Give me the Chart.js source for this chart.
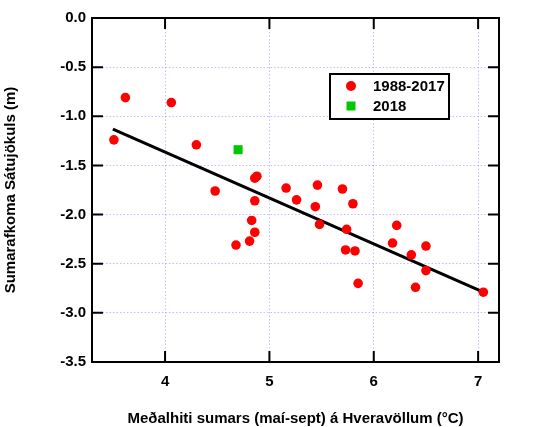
<!DOCTYPE html>
<html>
<head>
<meta charset="utf-8">
<script src="https://cdn.jsdelivr.net/npm/chart.js@4.4.0/dist/chart.umd.min.js"></script>
<style>
  body { margin: 0; background: #fff; }
</style>
</head>
<body>
<canvas id="graf" width="540" height="427"></canvas>
<script>
// Gögn 1988-2017: meðalhiti sumars (x) og sumarafkoma (y)
const hiti = [3.51, 3.62, 4.06, 4.30, 4.48, 4.68, 4.81, 4.83, 4.86, 4.86, 4.86, 4.88,
  5.16, 5.26, 5.44, 5.46, 5.48, 5.70, 5.74, 5.73, 5.80, 5.82, 5.85,
  6.18, 6.22, 6.36, 6.40, 6.50, 6.50, 7.05];
const afkoma = [-1.24, -0.81, -0.86, -1.29, -1.76, -2.31, -2.27, -2.06, -2.18, -1.86, -1.63, -1.61,
  -1.73, -1.85, -1.92, -1.70, -2.10, -1.74, -2.15, -2.36, -1.89, -2.37, -2.70,
  -2.29, -2.11, -2.41, -2.74, -2.32, -2.57, -2.79];
// 2018
const hiti2018 = [4.70];
const afkoma2018 = [-1.34];
// Aðfallslína
const linaX = [3.5, 7.05];
const linaY = [-1.13, -2.79];
// Kvarðar
const xTicks = [4, 5, 6, 7];
const yTicks = [0, -0.5, -1.0, -1.5, -2.0, -2.5, -3.0, -3.5];
const legendTexti = ["1988-2017", "2018"];

const pör = (xs, ys) => xs.map((v, i) => ({ x: v, y: ys[i] }));

const rammi = {
  id: "rammi",
  afterDatasetsDraw(chart) {
    const { ctx, chartArea: a, scales: { x, y } } = chart;
    ctx.save();
    ctx.strokeStyle = "#000";
    ctx.lineWidth = 2;
    ctx.strokeRect(a.left, a.top, a.right - a.left, a.bottom - a.top);
    ctx.beginPath();
    xTicks.forEach(v => {
      const px = x.getPixelForValue(v);
      ctx.moveTo(px, a.bottom); ctx.lineTo(px, a.bottom - 11);
      ctx.moveTo(px, a.top); ctx.lineTo(px, a.top + 11);
    });
    yTicks.forEach(v => {
      const py = y.getPixelForValue(v);
      ctx.moveTo(a.left, py); ctx.lineTo(a.left + 11, py);
      ctx.moveTo(a.right, py); ctx.lineTo(a.right - 11, py);
    });
    ctx.stroke();

    // Skýringar
    ctx.fillStyle = "#fff";
    ctx.fillRect(330, 74, 119, 45);
    ctx.strokeRect(330, 74, 119, 45);
    ctx.fillStyle = "#ff0000";
    ctx.beginPath();
    ctx.arc(351, 86, 5, 0, Math.PI * 2);
    ctx.fill();
    ctx.fillStyle = "#00c800";
    ctx.fillRect(346.5, 101.5, 9, 9);
    ctx.fillStyle = "#000";
    ctx.font = "bold 15px 'Liberation Sans', Arial, sans-serif";
    ctx.textBaseline = "middle";
    ctx.fillText(legendTexti[0], 373, 87);
    ctx.fillText(legendTexti[1], 373, 107);
    ctx.restore();
  }
};

const leturAs = { family: "'Liberation Sans', Arial, sans-serif", size: 15, weight: "bold" };
const netLitur = "rgba(130,130,255,0.5)";

new Chart(document.getElementById("graf"), {
  type: "scatter",
  data: {
    datasets: [
      {
        label: legendTexti[0],
        data: pör(hiti, afkoma),
        backgroundColor: "#ff0000",
        borderWidth: 0,
        pointRadius: 4.8,
        order: 2
      },
      {
        label: legendTexti[1],
        data: pör(hiti2018, afkoma2018),
        backgroundColor: "#00c800",
        borderWidth: 0,
        pointStyle: "rect",
        pointRadius: 6.4,
        order: 1
      },
      {
        type: "line",
        label: "lína",
        data: pör(linaX, linaY),
        borderColor: "#000",
        borderWidth: 3,
        pointRadius: 0,
        fill: false,
        order: 3
      }
    ]
  },
  options: {
    responsive: false,
    animation: false,
    layout: { padding: { top: 18, right: 41, left: 0, bottom: 0 } },
    plugins: { legend: { display: false }, tooltip: { enabled: false } },
    scales: {
      x: {
        type: "linear",
        min: 3.3,
        max: 7.2,
        afterFit: s => { s.height = 65; },
        afterBuildTicks: s => { s.ticks = xTicks.map(v => ({ value: v })); },
        ticks: { color: "#000", font: leturAs, padding: 11 },
        grid: { color: netLitur, lineWidth: 1, drawTicks: false },
        border: { display: false, dash: [1.5, 2] },
        title: {
          display: true,
          text: "Meðalhiti sumars (maí-sept) á Hveravöllum (°C)",
          color: "#000",
          font: leturAs,
          padding: { top: 0, bottom: -1 }
        }
      },
      y: {
        type: "linear",
        min: -3.5,
        max: 0,
        afterFit: s => { s.width = 92; },
        afterBuildTicks: s => { s.ticks = yTicks.map(v => ({ value: v })); },
        ticks: { color: "#000", font: leturAs, padding: 6, callback: v => v.toFixed(1) },
        grid: { color: netLitur, lineWidth: 1, drawTicks: false },
        border: { display: false, dash: [1.5, 2] },
        title: {
          display: true,
          text: "Sumarafkoma Sátujökuls (m)",
          color: "#000",
          font: leturAs,
          padding: { top: 2, bottom: 0 }
        }
      }
    }
  },
  plugins: [rammi]
});
</script>
</body>
</html>
